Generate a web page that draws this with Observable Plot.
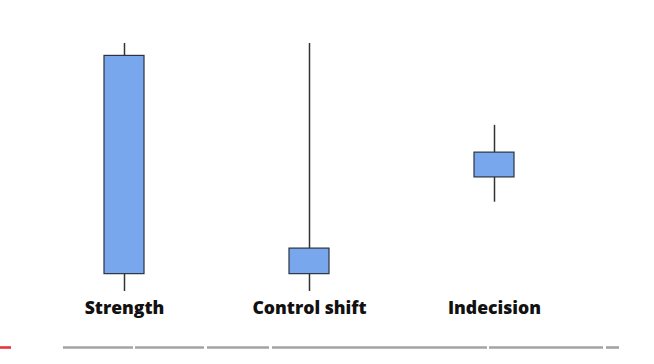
<!DOCTYPE html>
<html>
<head>
<meta charset="utf-8">
<script src="https://cdn.jsdelivr.net/npm/d3@7"></script>
<script src="https://cdn.jsdelivr.net/npm/@observablehq/plot@0.6"></script>
<style>
  html, body { margin: 0; padding: 0; background: #fff; }
  #wrap { position: relative; width: 654px; height: 364px; overflow: hidden; }
  #bar { position: absolute; left: 0; top: 336px; }
</style>
</head>
<body>
<div id="wrap"><div id="chart"></div><div id="bar"></div></div>
<script>
// Candlestick patterns (relative price units)
const categories = ["Strength", "Control shift", "Indecision"];
const lows   = [0, 0, 36];
const opens  = [7, 7, 46];
const closes = [95, 17.3, 56];
const highs  = [100, 100, 67];

// Video timeline decoration (timeline units)
const played = [[0, 11]];
const chapters = [[63, 133], [135, 204], [207, 269], [272, 487], [489, 603], [606, 619]];

const candles = categories.map((c, i) => ({
  name: c, low: lows[i], open: opens[i], close: closes[i], high: highs[i]
}));

const chart = Plot.plot({
  width: 654,
  height: 336,
  marginTop: 43,
  marginBottom: 45,
  marginLeft: 31.5,
  marginRight: 67.5,
  style: { background: "transparent", fontFamily: "'Open Sans', Inter, sans-serif" },
  x: { domain: categories, paddingInner: 0.784, paddingOuter: 0.392, label: null },
  y: { domain: [0, 100], axis: null },
  marks: [
    Plot.ruleX(candles, { x: "name", y1: "low", y2: "high", stroke: "#333", strokeWidth: 1.5 }),
    Plot.rectY(candles, { x: "name", y1: "open", y2: "close", fill: "#79a7ee", stroke: "#2b3340", strokeWidth: 1.2 }),
    Plot.axisX({ tickSize: 0, tickPadding: 9.5, fontSize: 17.6, fontWeight: 800, fill: "#111", label: null })
  ]
});
chart.querySelectorAll("[aria-label='x-axis tick label']").forEach(e => {
  e.setAttribute("font-weight", "800");
});
document.getElementById("chart").append(chart);

const segs = [
  ...played.map(([a, b]) => ({ a, b, kind: "played" })),
  ...chapters.map(([a, b]) => ({ a, b, kind: "chapter" }))
];
const bar = Plot.plot({
  width: 654,
  height: 22,
  margin: 0,
  style: { background: "transparent" },
  x: { domain: [0, 654], axis: null },
  y: { domain: [0, 1], axis: null },
  color: { domain: ["played", "chapter"], range: ["#e8343e", "#a3a3a3"] },
  marks: [
    Plot.ruleY(segs, { x1: "a", x2: "b", y: () => 0.5, stroke: "kind", strokeWidth: 2.6 })
  ]
});
document.getElementById("bar").append(bar);
</script>
</body>
</html>
